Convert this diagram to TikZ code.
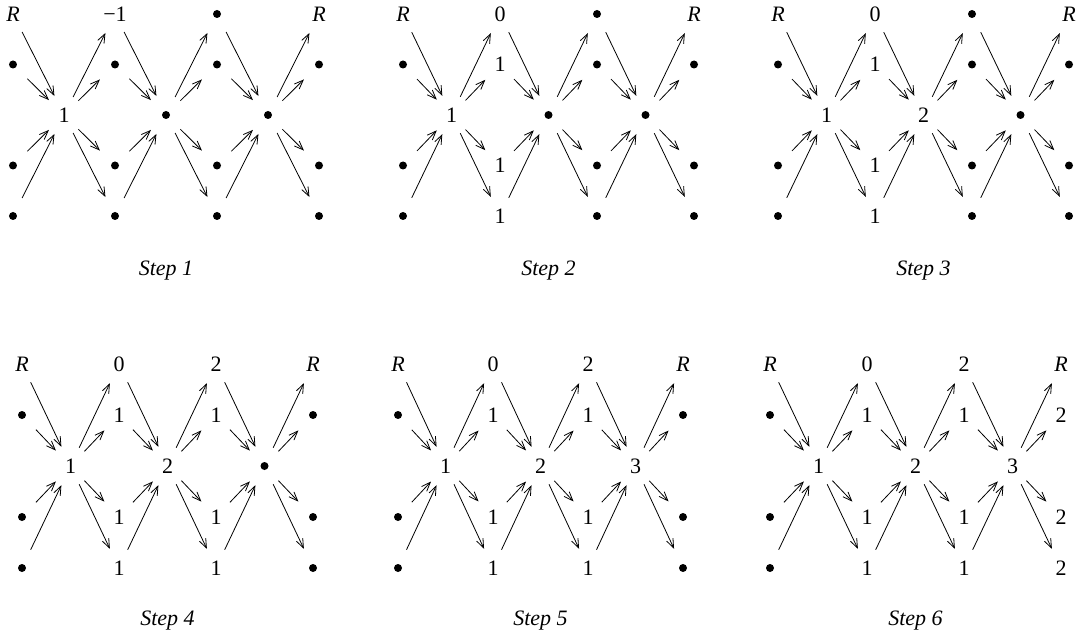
\documentclass[tikz,border=0pt]{standalone}
\usepackage{fontspec}
\setmainfont{Liberation Serif}
\usetikzlibrary{arrows.meta}

\newcommand{\dotmark}{\tikz[baseline={(0pt,-7.5pt)}]\fill (0pt,0pt) circle (4pt);}

\tikzset{
	cell/.style={circle, inner sep=0pt, minimum size=40pt, text height=15pt, text depth=0pt, font=\fontsize{22}{26}\selectfont},
	flow/.style={line width=0.8pt, -{Straight Barb[length=9pt,width=7pt]}, shorten >=1pt},
	caption/.style={font=\fontsize{22}{26}\selectfont\itshape}
}

\begin{document}
\begin{tikzpicture}[x=1pt, y=-1pt]
	\useasboundingbox (0,0) rectangle (1077,639);
	
	% step / origin / column step / row step / middle labels / column labels
	\foreach \n/\px/\py/\dx/\dy/\ma/\mb/\mc/\ta/\ra/\tb/\rb/\rc in {
		1/13/14/102/50.5/1/\dotmark/\dotmark/−1/\dotmark/\dotmark/\dotmark/\dotmark,
		2/403/14/97/50.5/1/\dotmark/\dotmark/0/1/\dotmark/\dotmark/\dotmark,
		3/778/14/97/50.5/1/2/\dotmark/0/1/\dotmark/\dotmark/\dotmark,
		4/22/364/97/51/1/2/\dotmark/0/1/2/1/\dotmark,
		5/398/364/95/51/1/2/3/0/1/2/1/\dotmark,
		6/770/364/97/51/1/2/3/0/1/2/1/2}
	{
		\node[cell] (s\n-c0-0) at (\px,\py) {\textit{R}};
		\node[cell] (s\n-c1-0) at (\px+\dx,\py) {\ta};
		\node[cell] (s\n-c2-0) at (\px+2*\dx,\py) {\tb};
		\node[cell] (s\n-c3-0) at (\px+3*\dx,\py) {\textit{R}};
		\foreach \r in {1,3,4} {
			\node[cell] (s\n-c0-\r) at (\px,\py+\r*\dy) {\dotmark};
			\node[cell] (s\n-c1-\r) at (\px+\dx,\py+\r*\dy) {\ra};
			\node[cell] (s\n-c2-\r) at (\px+2*\dx,\py+\r*\dy) {\rb};
			\node[cell] (s\n-c3-\r) at (\px+3*\dx,\py+\r*\dy) {\rc};
		}
		\node[cell] (s\n-m1) at (\px+0.5*\dx,\py+2*\dy) {\ma};
		\node[cell] (s\n-m2) at (\px+1.5*\dx,\py+2*\dy) {\mb};
		\node[cell] (s\n-m3) at (\px+2.5*\dx,\py+2*\dy) {\mc};
		
		\foreach \k/\j/\m in {0/1/m1,1/2/m2,2/3/m3}
			\foreach \r in {0,1,3,4} {
				\draw[flow] (s\n-c\k-\r) -- (s\n-\m);
				\draw[flow] (s\n-\m) -- (s\n-c\j-\r);
			}
		
		\node[caption] (cap\n) at (\px+1.5*\dx,\py+257) {Step \n};
	}
\end{tikzpicture}
\end{document}
